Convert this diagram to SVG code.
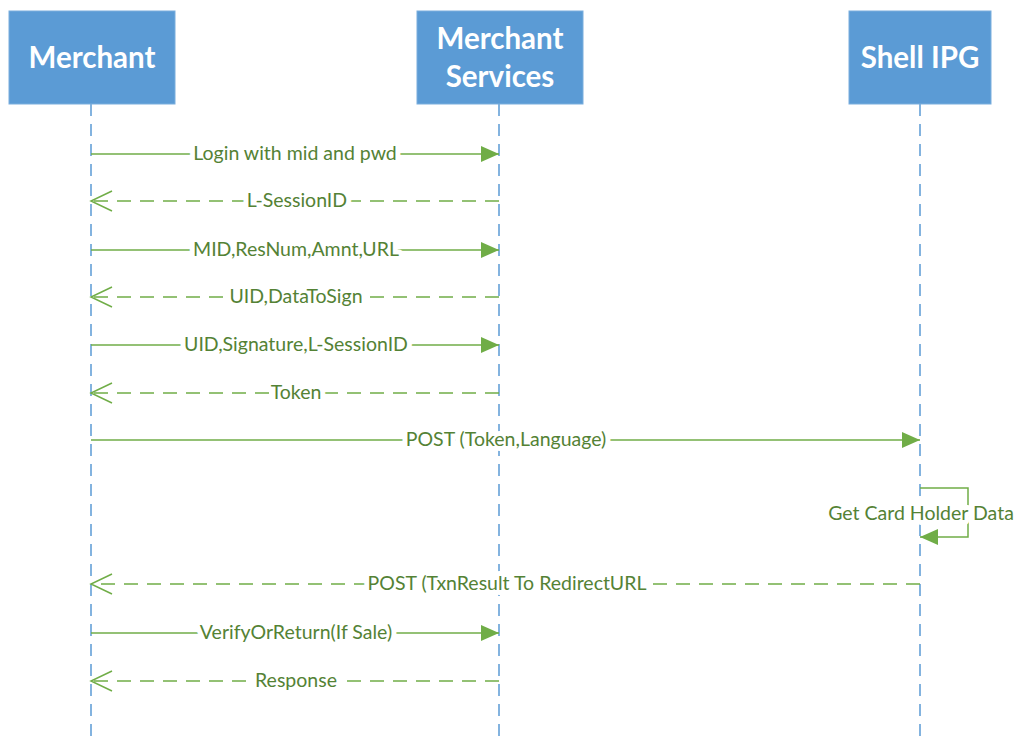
<svg xmlns="http://www.w3.org/2000/svg" width="1016" height="740" viewBox="0 0 1016 740">
<style>
.box{fill:#5B9BD5;stroke:#7AAEDD;stroke-width:1}
.hd{font-family:Lato,"Open Sans","Liberation Sans",sans-serif;font-weight:bold;font-size:29.5px;fill:#fff;text-anchor:middle}
.life{stroke:#5B9BD5;stroke-width:1.5;stroke-dasharray:12,8;fill:none}
.msg{stroke:#70AD47;stroke-width:1.5;fill:none}
.ret{stroke:#70AD47;stroke-width:1.5;fill:none;stroke-dasharray:14,9}
.lbl{font-family:Lato,"Open Sans","Liberation Sans",sans-serif;font-size:19.5px;fill:#548235;text-anchor:middle;stroke:#fff;stroke-width:10;stroke-linejoin:round;paint-order:stroke}
</style>
<defs>
<marker id="solid" markerWidth="20" markerHeight="18" refX="18" refY="9" orient="auto" markerUnits="userSpaceOnUse"><path d="M0,1 L18,9 L0,17 Z" fill="#70AD47"/></marker>
<marker id="open" markerWidth="24" markerHeight="24" refX="22" refY="12" orient="auto" markerUnits="userSpaceOnUse"><path d="M1,2 L22,12 L1,22" fill="none" stroke="#70AD47" stroke-width="1.5"/></marker>
</defs>
<rect width="1016" height="740" fill="#fff"/>
<g id="lifelines">
<line class="life" x1="91" y1="104" x2="91" y2="740"/>
<line class="life" x1="499" y1="104" x2="499" y2="740"/>
<line class="life" x1="920" y1="104" x2="920" y2="740"/>
</g>
<g id="merchant"><rect class="box" x="9" y="11" width="166" height="93"/><text class="hd" x="92" y="68">Merchant</text></g>
<g id="merchant-services"><rect class="box" x="417" y="11" width="166" height="93"/><text class="hd" x="500" y="49">Merchant</text><text class="hd" x="500" y="87">Services</text></g>
<g id="shell-ipg"><rect class="box" x="849" y="11" width="142" height="93"/><text class="hd" x="920" y="68">Shell IPG</text></g>
<g id="connectors">
<line class="msg" x1="91" y1="154" x2="499" y2="154" marker-end="url(#solid)"/>
<line class="ret" x1="499" y1="201" x2="91" y2="201" marker-end="url(#open)"/>
<line class="msg" x1="91" y1="250" x2="499" y2="250" marker-end="url(#solid)"/>
<line class="ret" x1="499" y1="297" x2="91" y2="297" marker-end="url(#open)"/>
<line class="msg" x1="91" y1="345" x2="499" y2="345" marker-end="url(#solid)"/>
<line class="ret" x1="499" y1="393" x2="91" y2="393" marker-end="url(#open)"/>
<line class="msg" x1="91" y1="440" x2="920" y2="440" marker-end="url(#solid)"/>
<path class="msg" d="M920,488 H968 V537 H920" marker-end="url(#solid)"/>
<line class="ret" x1="920" y1="584" x2="91" y2="584" marker-end="url(#open)"/>
<line class="msg" x1="91" y1="633" x2="499" y2="633" marker-end="url(#solid)"/>
<line class="ret" x1="499" y1="681" x2="91" y2="681" marker-end="url(#open)"/>
<text class="lbl" x="295" y="160">Login with mid and pwd</text>
<text class="lbl" x="297" y="207">L-SessionID</text>
<text class="lbl" x="296" y="256">MID,ResNum,Amnt,URL</text>
<text class="lbl" x="296" y="303">UID,DataToSign</text>
<text class="lbl" x="296" y="351">UID,Signature,L-SessionID</text>
<text class="lbl" x="296" y="399">Token</text>
<text class="lbl" x="506" y="446">POST (Token,Language)</text>
<text class="lbl" x="921" y="520">Get Card Holder Data</text>
<text class="lbl" x="507" y="590">POST (TxnResult To RedirectURL</text>
<text class="lbl" x="296" y="639">VerifyOrReturn(If Sale)</text>
<text class="lbl" x="296" y="687">Response</text>
</g>
</svg>
